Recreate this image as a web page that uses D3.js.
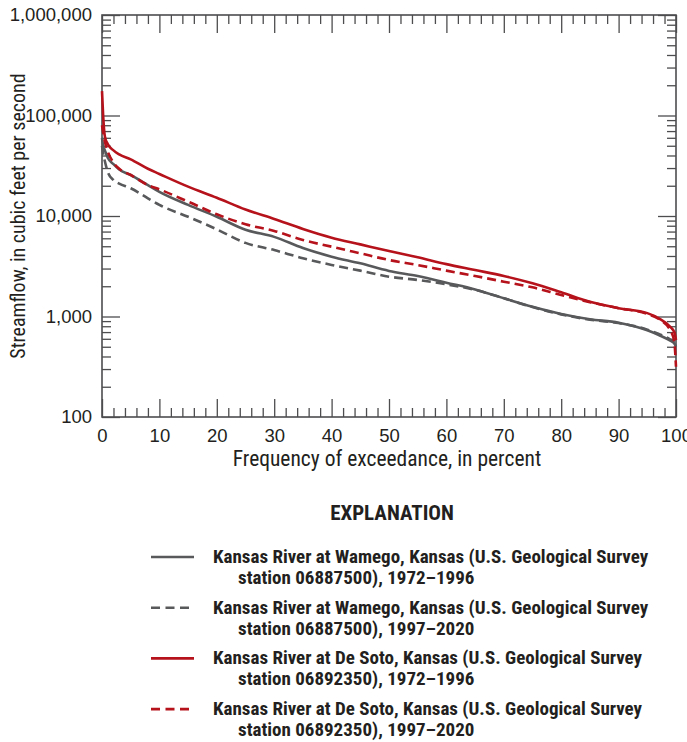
<!DOCTYPE html>
<html lang="en">
<head>
<meta charset="utf-8">
<script src="https://cdn.jsdelivr.net/npm/d3@7"></script>
<style>
  body { margin: 0; background: #fff; }
  svg { display: block; font-family: "Liberation Sans Narrow", "Roboto Condensed", "Arial Narrow", sans-serif; }
  .tick text { font-size: 18.5px; fill: #231f20; }
  .axis path { display: none; }
  .axis line { stroke: #4d4d4f; stroke-width: 1.3; }
</style>
</head>
<body>
<script>
// exceedance percent
const pct = [0, 0.2, 0.5, 1, 2, 3, 5, 8, 10, 15, 20, 25, 30, 35, 40, 45, 50, 55, 60, 65, 70, 75, 80, 85, 90, 95, 97, 99, 99.7, 100];

// streamflow, cubic feet per second
const wamego7296 = [60000, 50000, 45000, 38000, 32800, 29000, 25600, 20300, 17400, 12900, 9830, 7300, 6200, 4800, 3940, 3380, 2840, 2530, 2170, 1860, 1520, 1250, 1060, 940, 868, 730, 655, 575, 540, 500];
const wamego9720 = [50000, 42000, 35000, 27500, 22800, 21000, 18900, 15000, 12900, 9830, 7370, 5400, 4580, 3800, 3260, 2860, 2490, 2310, 2090, 1840, 1520, 1240, 1050, 930, 860, 740, 670, 590, 550, 520];
const desoto7296 = [175000, 100000, 62000, 52000, 45000, 41000, 36600, 29500, 26200, 19600, 15200, 11600, 9340, 7430, 6080, 5220, 4480, 3880, 3320, 2900, 2530, 2140, 1740, 1400, 1210, 1080, 960, 790, 700, 584];
const desoto9720 = [80000, 68000, 55000, 44000, 34000, 29500, 25600, 20300, 18400, 13900, 10400, 8270, 7100, 5770, 4950, 4250, 3650, 3250, 2860, 2530, 2220, 1950, 1640, 1390, 1210, 1060, 945, 730, 560, 316];

const xTicks = [0, 10, 20, 30, 40, 50, 60, 70, 80, 90, 100];
const yTicks = [100, 1000, 10000, 100000, 1000000];

const seriesNames = [
  ["Kansas River at Wamego, Kansas (U.S. Geological Survey", "station 06887500), 1972\u20131996"],
  ["Kansas River at Wamego, Kansas (U.S. Geological Survey", "station 06887500), 1997\u20132020"],
  ["Kansas River at De Soto, Kansas (U.S. Geological Survey", "station 06892350), 1972\u20131996"],
  ["Kansas River at De Soto, Kansas (U.S. Geological Survey", "station 06892350), 1997\u20132020"]
];

var w = 687, h = 742;
var margin = { left: 102, right: 11, top: 15, bottom: 325 };
var gray = "#58595b", red = "#b5121b";

var svg = d3.select("body").append("svg")
  .attr("width", w)
  .attr("height", h);

var x = d3.scaleLinear().domain([0, 100]).range([margin.left, w - margin.right]);
var y = d3.scaleLog().domain([100, 1000000]).range([h - margin.bottom, margin.top]);

var x0 = x(0), x1 = x(100), y0 = y(100), y1 = y(1000000);

// minor ticks
var xMinor = d3.range(0, 101, 2).filter(d => d % 10 != 0);
var yMinor = [];
for (let e = 100; e < 1000000; e *= 10) {
  for (let k = 2; k <= 9; k++) yMinor.push(e * k);
}

function addAxis(axisFn, scale, vals, size, tr, labels) {
  var a = axisFn(scale).tickValues(vals).tickSize(size).tickSizeOuter(0);
  if (labels) a.tickFormat(labels).tickPadding(axisFn === d3.axisBottom ? 12 : 10);
  else a.tickFormat("");
  return svg.append("g").attr("class", "axis").attr("transform", tr).call(a);
}

// bottom
addAxis(d3.axisBottom, x, xTicks, -18, "translate(0," + y0 + ")", d3.format("d"));
addAxis(d3.axisBottom, x, xMinor, -9, "translate(0," + y0 + ")", null);
// top
addAxis(d3.axisTop, x, xTicks, -18, "translate(0," + y1 + ")", null);
addAxis(d3.axisTop, x, xMinor, -9, "translate(0," + y1 + ")", null);
// left
addAxis(d3.axisLeft, y, yTicks, -18, "translate(" + x0 + ",0)", d3.format(","));
addAxis(d3.axisLeft, y, yMinor, -9, "translate(" + x0 + ",0)", null);
// right
addAxis(d3.axisRight, y, yTicks, -18, "translate(" + x1 + ",0)", null);
addAxis(d3.axisRight, y, yMinor, -9, "translate(" + x1 + ",0)", null);

// frame
svg.append("rect")
  .attr("x", x0).attr("y", y1)
  .attr("width", x1 - x0).attr("height", y0 - y1)
  .attr("fill", "none")
  .attr("stroke", "#4d4d4f")
  .attr("stroke-width", 1.6);

// curves
var series = [
  { vals: wamego7296, color: gray, dash: null },
  { vals: wamego9720, color: gray, dash: "9,5" },
  { vals: desoto7296, color: red, dash: null },
  { vals: desoto9720, color: red, dash: "9,5" }
];

var line = d3.line()
  .x(d => x(d[0]))
  .y(d => y(d[1]))
  .curve(d3.curveMonotoneX);

series.forEach(function(s) {
  svg.append("path")
    .datum(pct.map((p, i) => [p, s.vals[i]]))
    .attr("d", line)
    .attr("fill", "none")
    .attr("stroke", s.color)
    .attr("stroke-width", 2.6)
    .attr("stroke-dasharray", s.dash);
});

// axis titles
svg.append("text")
  .attr("x", 387)
  .attr("y", 466)
  .attr("text-anchor", "middle")
  .style("font-size", "21.5px")
  .style("fill", "#231f20")
  .text("Frequency of exceedance, in percent");

svg.append("text")
  .attr("transform", "translate(25,216) rotate(-90)")
  .attr("text-anchor", "middle")
  .style("font-size", "20px")
  .style("fill", "#231f20")
  .text("Streamflow, in cubic feet per second");

// explanation
svg.append("text")
  .attr("x", 392)
  .attr("y", 520)
  .attr("text-anchor", "middle")
  .style("font-size", "21px")
  .style("font-weight", "bold")
  .style("fill", "#231f20")
  .text("EXPLANATION");

var legend = svg.append("g").attr("id", "legend");
series.forEach(function(s, i) {
  var yy = 557 + 50.7 * i;
  legend.append("line")
    .attr("x1", 151).attr("x2", 194)
    .attr("y1", yy).attr("y2", yy)
    .attr("stroke", s.color)
    .attr("stroke-width", 2.6)
    .attr("stroke-dasharray", s.dash ? "9,5.5" : null);
  legend.append("text")
    .attr("x", 213)
    .attr("y", yy + 6)
    .style("font-size", "19px")
    .style("font-weight", "bold")
    .style("fill", "#231f20")
    .text(seriesNames[i][0]);
  legend.append("text")
    .attr("x", 238)
    .attr("y", yy + 27)
    .style("font-size", "19px")
    .style("font-weight", "bold")
    .style("fill", "#231f20")
    .text(seriesNames[i][1]);
});
</script>
</body>
</html>
